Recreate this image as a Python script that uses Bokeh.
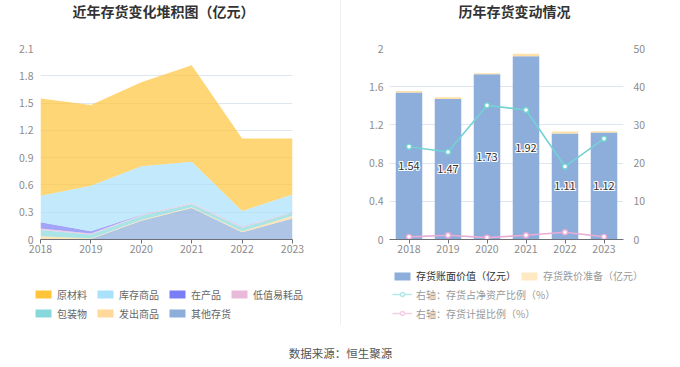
from bokeh.plotting import figure
from bokeh.models import (ColumnDataSource, FactorRange, Range1d, LinearAxis,
                          FixedTicker, Legend, LegendItem, Div, Label)
from bokeh.layouts import row, column
from bokeh.embed import file_html
from bokeh.resources import INLINE
from bokeh.core.properties import value

FONT = "Noto Sans CJK SC"

# ---------------- data ----------------
years = [2018, 2019, 2020, 2021, 2022, 2023]
year_labels = ["2018", "2019", "2020", "2021", "2022", "2023"]

# left chart: inventory composition (亿元)
raw_material = [1.07, 0.89, 0.925, 1.06, 0.797, 0.614]   # 原材料
goods_stock = [0.29, 0.50, 0.533, 0.453, 0.171, 0.194]   # 库存商品
wip = [0.07, 0.025, 0.002, 0.002, 0.002, 0.002]          # 在产品
consumables = [0.015, 0.01, 0.01, 0.01, 0.01, 0.005]     # 低值易耗品
packaging = [0.07, 0.043, 0.045, 0.035, 0.04, 0.035]     # 包装物
goods_shipped = [0.035, 0.007, 0.01, 0.01, 0.01, 0.028]  # 发出商品
other_inv = [0.0, 0.005, 0.205, 0.345, 0.08, 0.232]      # 其他存货
left_ticks = [0, 0.3, 0.6, 0.9, 1.2, 1.5, 1.8, 2.1]
left_tick_labels = ["0", "0.3", "0.6", "0.9", "1.2", "1.5", "1.8", "2.1"]

# right chart
book_value = [1.54, 1.47, 1.73, 1.92, 1.11, 1.12]        # 存货账面价值（亿元）
provision = [0.015, 0.02, 0.012, 0.025, 0.02, 0.013]     # 存货跌价准备（亿元）
net_asset_ratio = [24.3, 22.9, 35.1, 33.9, 19.1, 26.4]   # 存货占净资产比例（%）
provision_ratio = [0.7, 1.1, 0.5, 1.1, 1.9, 0.7]         # 存货计提比例（%）
right_ticks = [0, 0.4, 0.8, 1.2, 1.6, 2]
right_tick_labels = ["0", "0.4", "0.8", "1.2", "1.6", "2"]
pct_ticks = [0, 10, 20, 30, 40, 50]

left_title = "近年存货变化堆积图（亿元）"
right_title = "历年存货变动情况"
source_note = "数据来源：恒生聚源"
left_legend_row1 = ["原材料", "库存商品", "在产品", "低值易耗品"]
left_legend_row2 = ["包装物", "发出商品", "其他存货"]

# ---------------- styles ----------------
C_RAW = "#ffc43a"
C_STOCK = "#a9e1fb"
C_WIP = "#7a7df5"
C_CONS = "#e8b9d9"
C_PACK = "#88d8db"
C_SHIP = "#ffd99a"
C_OTHER = "#8daddb"
AXIS_C = "#6e7079"
LABEL_C = "#8c8c8c"
GRID_C = "#e0e6f1"
TEAL = "#74d2d4"
PINK = "#e8acd6"


def blank_fig(w, h):
    f = figure(width=w, height=h, x_range=Range1d(0, w), y_range=Range1d(h, 0),
               x_axis_type=None, y_axis_type=None, min_border=0,
               output_backend="svg", toolbar_location=None)
    f.outline_line_color = None
    f.xgrid.visible = False
    f.ygrid.visible = False
    return f


def title_fig(w, text, x):
    f = blank_fig(w, 40)
    f.add_layout(Label(x=x, y=10, text=text, text_font=FONT, text_font_size="14px",
                       text_font_style="bold", text_color="#333333",
                       text_align="left", text_baseline="middle"))
    return f


def style_chart(p):
    p.outline_line_color = None
    p.background_fill_color = "white"
    p.border_fill_color = "white"
    p.xgrid.grid_line_color = None
    p.ygrid.grid_line_color = GRID_C


def style_xaxis(ax):
    ax.axis_line_color = AXIS_C
    ax.major_tick_line_color = AXIS_C
    ax.major_tick_out = 4
    ax.major_tick_in = 0
    ax.minor_tick_line_color = None
    ax.major_label_text_font = FONT
    ax.major_label_text_font_size = "10.5px"
    ax.major_label_text_color = LABEL_C
    ax.major_label_standoff = 1


def style_yaxis(ax, standoff):
    ax.axis_line_color = None
    ax.major_tick_line_color = None
    ax.minor_tick_line_color = None
    ax.major_tick_out = 0
    ax.major_tick_in = 0
    ax.major_label_text_font = FONT
    ax.major_label_text_font_size = "10.5px"
    ax.major_label_text_color = LABEL_C
    ax.major_label_standoff = standoff


def make_legend(items, loc, color="#666666", orientation="horizontal", spacing=8):
    return Legend(items=items, location=loc, orientation=orientation,
                  padding=0, margin=0, spacing=spacing,
                  border_line_color=None, background_fill_alpha=0,
                  glyph_width=20, glyph_height=10, label_height=16,
                  label_standoff=4, label_text_font=FONT,
                  label_text_font_size="10px", label_text_color=color)


# off-screen coordinates for legend-only swatch renderers
OFF_X = [-50, -40]
OFF_Y = [-50, -40]

# ---------------- left chart ----------------
p1 = figure(width=340, height=222, x_range=Range1d(2018, 2023), y_range=Range1d(0, 2.1),
            output_backend="svg", toolbar_location=None,
            min_border_left=40, min_border_right=48, min_border_top=8, min_border_bottom=23)
style_chart(p1)

src1 = ColumnDataSource(dict(x=years, other=other_inv, ship=goods_shipped, pack=packaging,
                             cons=consumables, wip=wip, stock=goods_stock, raw=raw_material))
stack_keys = ["other", "ship", "pack", "cons", "wip", "stock", "raw"]
stack_colors = [C_OTHER, C_SHIP, C_PACK, C_CONS, C_WIP, C_STOCK, C_RAW]
p1.varea_stack(stackers=stack_keys, x="x", fill_color=stack_colors, fill_alpha=0.7, source=src1)

tk1 = FixedTicker(ticks=left_ticks)
p1.yaxis.ticker = tk1
p1.ygrid.ticker = tk1
p1.yaxis.major_label_overrides = {t: l for t, l in zip(left_ticks, left_tick_labels)}
p1.xaxis.ticker = FixedTicker(ticks=years)
p1.xaxis.major_label_overrides = {y: l for y, l in zip(years, year_labels)}
style_xaxis(p1.xaxis[0])
style_yaxis(p1.yaxis[0], 7)

# left legend figure
lf1 = blank_fig(340, 78)
sw = {}
for name, c in [("原材料", C_RAW), ("库存商品", C_STOCK), ("在产品", C_WIP), ("低值易耗品", C_CONS),
                ("包装物", C_PACK), ("发出商品", C_SHIP), ("其他存货", C_OTHER)]:
    sw[name] = lf1.varea(x=OFF_X, y1=[0, 0], y2=OFF_Y, fill_color=c)
lf1.add_layout(make_legend([LegendItem(label=n, renderers=[sw[n]]) for n in left_legend_row1], (33, 38)))
lf1.add_layout(make_legend([LegendItem(label=n, renderers=[sw[n]]) for n in left_legend_row2], (33, 19)))

# ---------------- right chart ----------------
p2 = figure(width=339, height=222, x_range=FactorRange(*year_labels), y_range=Range1d(0, 2),
            output_backend="svg", toolbar_location=None,
            min_border_left=48, min_border_right=57, min_border_top=8, min_border_bottom=23)
style_chart(p2)
p2.x_range.range_padding = 0
p2.extra_y_ranges = {"pct": Range1d(0, 50)}

src2 = ColumnDataSource(dict(year=year_labels, book=book_value, prov=provision,
                             mid=[v / 2 for v in book_value],
                             lbl=[f"{v:.2f}" for v in book_value],
                             ratio=net_asset_ratio, pratio=provision_ratio))
bars = p2.vbar_stack(["book", "prov"], x="year", width=0.68, fill_color=[C_OTHER, "#ffe0a6"],
                     line_color=None, source=src2)
# value labels: white halo (several offset copies) + dark text on top
for dx, dy in [(-1, 0), (1, 0), (0, -1), (0, 1), (-1, -1), (1, 1), (-1, 1), (1, -1)]:
    p2.text(x="year", y="mid", text="lbl", source=src2, text_align="center", text_baseline="middle",
            text_font=value(FONT), text_font_size="11px", text_color="white",
            x_offset=dx, y_offset=dy)
p2.text(x="year", y="mid", text="lbl", source=src2, text_align="center", text_baseline="middle",
        text_font=value(FONT), text_font_size="11px", text_color="#333333")

p2.line(x="year", y="ratio", y_range_name="pct", source=src2, line_color=TEAL, line_width=1.6)
p2.scatter(x="year", y="ratio", y_range_name="pct", source=src2, size=5,
           fill_color="white", line_color=TEAL, line_width=1.4)
p2.line(x="year", y="pratio", y_range_name="pct", source=src2, line_color=PINK, line_width=1.6)
p2.scatter(x="year", y="pratio", y_range_name="pct", source=src2, size=5,
           fill_color="white", line_color=PINK, line_width=1.4)

tk2 = FixedTicker(ticks=right_ticks)
p2.yaxis.ticker = tk2
p2.ygrid.ticker = tk2
p2.yaxis.major_label_overrides = {t: l for t, l in zip(right_ticks, right_tick_labels)}
style_xaxis(p2.xaxis[0])
style_yaxis(p2.yaxis[0], 6)

ax_r = LinearAxis(y_range_name="pct", ticker=FixedTicker(ticks=pct_ticks))
style_yaxis(ax_r, 10)
p2.add_layout(ax_r, "right")

# right legend figure
lf2 = blank_fig(339, 78)
d_book = lf2.varea(x=OFF_X, y1=[0, 0], y2=OFF_Y, fill_color=C_OTHER)
d_prov = lf2.varea(x=OFF_X, y1=[0, 0], y2=OFF_Y, fill_color="#ffe8c4")
d_l1 = lf2.line(x=OFF_X, y=OFF_Y, line_color="#b4e8ea", line_width=1.5)
d_s1 = lf2.scatter(x=OFF_X, y=OFF_Y, size=8, fill_color="white", line_color="#b4e8ea", line_width=1.5)
d_l2 = lf2.line(x=OFF_X, y=OFF_Y, line_color="#f2d0e6", line_width=1.5)
d_s2 = lf2.scatter(x=OFF_X, y=OFF_Y, size=8, fill_color="white", line_color="#f2d0e6", line_width=1.5)
lf2.add_layout(make_legend([LegendItem(label="存货账面价值（亿元）", renderers=[d_book])],
                           (51, 56.5), color="#333333"))
lf2.add_layout(make_legend([LegendItem(label="存货跌价准备（亿元）", renderers=[d_prov])],
                           (178, 56.5), color="#999999"))
lf2.add_layout(make_legend([LegendItem(label="右轴：存货占净资产比例（%）", renderers=[d_l1, d_s1]),
                            LegendItem(label="右轴：存货计提比例（%）", renderers=[d_l2, d_s2])],
                           (51, 19), color="#999999", orientation="vertical", spacing=3))

# ---------------- titles, divider, footer ----------------
tf1 = title_fig(340, left_title, 72)
tf2 = title_fig(339, right_title, 117)


def vline(h):
    return Div(text="", width=1, height=h, margin=0, styles={"background-color": "#eeeeee"})


ff = blank_fig(680, 24)
ff.add_layout(Label(x=340, y=12, text=source_note, text_font=FONT, text_font_size="11.5px",
                    text_color="#555555", text_align="center", text_baseline="middle"))

layout = column(row(tf1, vline(40), tf2, spacing=0),
                row(p1, vline(222), p2, spacing=0),
                row(lf1, vline(63), lf2, spacing=0),
                ff, spacing=0)

open("out.html", "w").write(file_html(layout, INLINE))
